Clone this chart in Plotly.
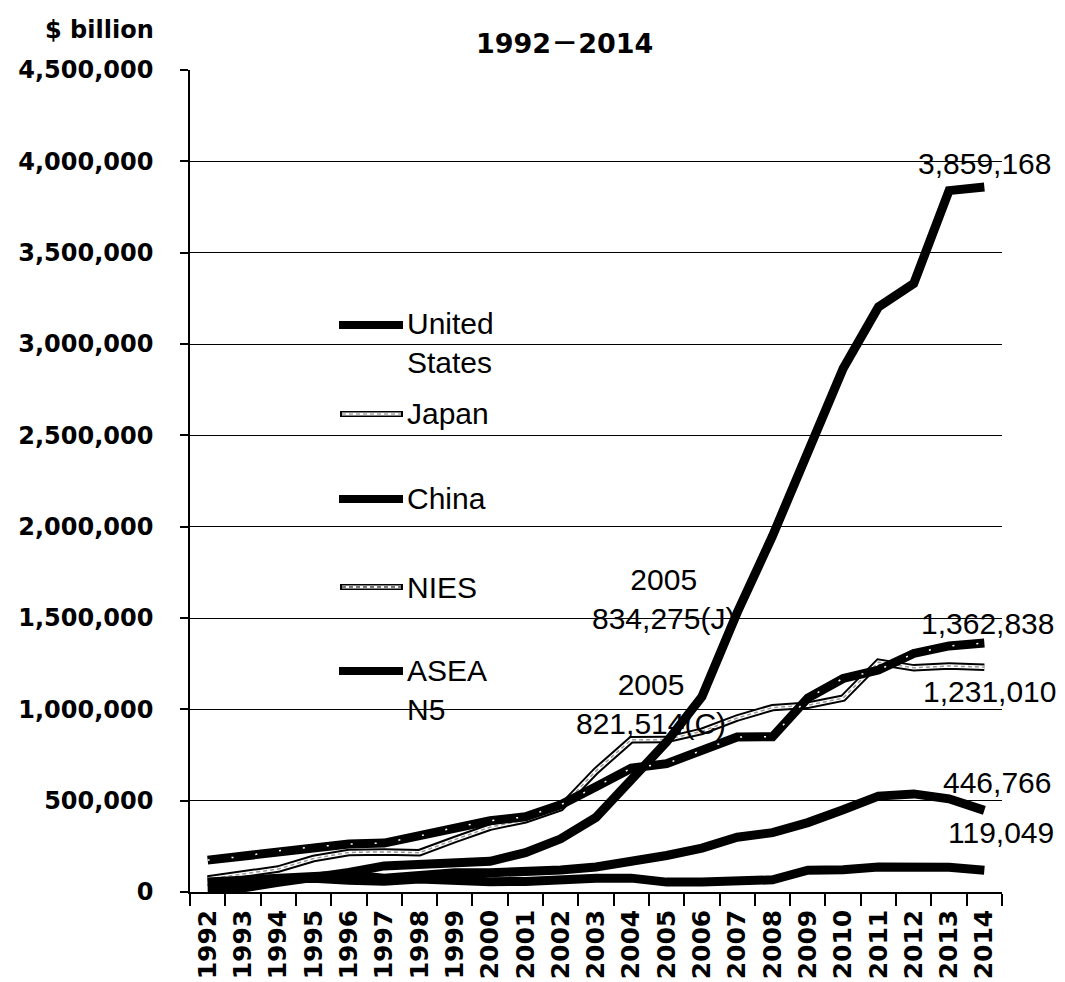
import plotly.graph_objects as go

# ---------------- data ($ million shown as "$ billion" label in source) ----------------
years = [str(y) for y in range(1992, 2015)]
united_states = [60266, 62354, 63281, 74780, 64037, 58907, 70715, 60500, 56600, 57634,
                 67962, 74894, 75890, 54084, 54853, 59519, 66607, 118967, 121397, 136880,
                 139134, 135155, 119049]
japan = [71623, 98524, 125860, 183250, 216648, 219648, 215471, 286916, 354902, 395155,
         461186, 663289, 833891, 834275, 879682, 952784, 1009360, 1022236, 1061490, 1258172,
         1227147, 1237159, 1231010]
china = [19443, 22387, 52914, 75377, 107039, 142762, 149188, 157728, 168278, 215605,
         291128, 408151, 614500, 821514, 1068493, 1530282, 1949260, 2416044, 2866079, 3202789,
         3331120, 3839548, 3859168]
nies = [174500, 195000, 225600, 247000, 262600, 268000, 306800, 353000, 390000, 411500,
        477000, 576000, 678000, 703000, 774000, 848000, 850000, 1062000, 1169000, 1215000,
        1306000, 1347000, 1362838]
asean5 = [55000, 68000, 75000, 82000, 95000, 75000, 88000, 105000, 105000, 108000,
          120000, 137000, 164000, 200000, 240000, 300000, 325000, 380000, 450000, 525000,
          537000, 510000, 446766]

legend_labels = ["United<br>States", "Japan", "China", "NIES", "ASEA<br>N5"]
y_ticks = [0, 500000, 1000000, 1500000, 2000000, 2500000, 3000000, 3500000, 4000000, 4500000]
y_tick_text = ["0", "500,000", "1,000,000", "1,500,000", "2,000,000", "2,500,000",
               "3,000,000", "3,500,000", "4,000,000", "4,500,000"]
unit_label = "$ billion"
period_label = "1992－2014"

# ---------------- layout geometry ----------------
W, H = 1065, 982
L, R, T, B = 190, 1002, 70, 892


def px(x):
    return (x - L) / (R - L)


def py(y):
    return (B - y) / (B - T)


REG = dict(family="Liberation Sans, Arial, sans-serif", size=30, color="black")
BOLD = dict(family="DejaVu Sans, sans-serif", size=24, color="black", weight="bold")
BOLD_X = dict(family="DejaVu Sans, sans-serif", size=25, color="black", weight="bold")

fig = go.Figure()


def black_line(vals, name):
    fig.add_trace(go.Scatter(x=years, y=vals, mode="lines", name=name,
                             line=dict(color="black", width=9), hoverinfo="skip"))


# United States
black_line(united_states, "United States")
# Japan: outlined light line
fig.add_trace(go.Scatter(x=years, y=japan, mode="lines", name="Japan",
                         line=dict(color="black", width=7.5), hoverinfo="skip"))
fig.add_trace(go.Scatter(x=years, y=japan, mode="lines", showlegend=False,
                         line=dict(color="white", width=3.5), hoverinfo="skip"))
fig.add_trace(go.Scatter(x=years, y=japan, mode="lines", showlegend=False,
                         line=dict(color="#9a9a9a", width=1.5, dash="4px,3px"), hoverinfo="skip"))
# China
black_line(china, "China")
# NIES: dark line with light specks
black_line(nies, "NIES")
fig.add_trace(go.Scatter(x=years, y=nies, mode="lines", showlegend=False,
                         line=dict(color="white", width=1.5, dash="2px,22px"), hoverinfo="skip"))
# ASEAN5
black_line(asean5, "ASEAN5")

# ---------------- manual legend ----------------
shapes = []
annotations = []
leg_rows = [325, 414, 499, 587, 671]
leg_text_y = [343, 413, 498, 587, 690]
styles = ["black", "outline_light", "black", "outline_dark", "black"]
for lab, ys, ty, st in zip(legend_labels, leg_rows, leg_text_y, styles):
    if st == "black":
        shapes.append(dict(type="line", xref="paper", yref="paper", x0=px(339), x1=px(403),
                           y0=py(ys), y1=py(ys), line=dict(color="black", width=8)))
    else:
        inner = "#bdbdbd" if st == "outline_light" else "#7a7a7a"
        shapes.append(dict(type="line", xref="paper", yref="paper", x0=px(340), x1=px(403),
                           y0=py(ys), y1=py(ys), line=dict(color="black", width=6)))
        shapes.append(dict(type="line", xref="paper", yref="paper", x0=px(342), x1=px(401),
                           y0=py(ys), y1=py(ys), line=dict(color="white", width=3)))
        shapes.append(dict(type="line", xref="paper", yref="paper", x0=px(342), x1=px(401),
                           y0=py(ys), y1=py(ys), line=dict(color=inner, width=2, dash="4px,3px")))
    annotations.append(dict(text=lab, xref="paper", yref="paper", x=px(405), y=py(ty),
                            xanchor="left", yanchor="middle", align="left", showarrow=False,
                            font=REG))


# ---------------- data labels (anchored to the category index of the point) ----------------
def label(text, xi, val, xs, ys):
    annotations.append(dict(text=text, xref="x", yref="y", x=xi, y=val, xshift=xs,
                            yshift=ys, showarrow=False, font=REG, align="center",
                            xanchor="center", yanchor="middle"))


last = len(years) - 1
i2005 = years.index("2005")
label("3,859,168", last, china[last], 0, 24)
label("1,362,838", last, nies[last], 3, 20)
label("1,231,010", last, japan[last], 5, -24)
label("446,766", last, asean5[last], 13, 28)
label("119,049", last, united_states[last], 17, 38)
label("2005<br>834,275(J)", i2005, japan[i2005], -3, 141)
label("2005<br>821,514(C)", i2005, china[i2005], -16, 38)

# ---------------- titles ----------------
annotations.append(dict(text=unit_label, xref="paper", yref="paper", x=px(99), y=py(30),
                        xanchor="center", yanchor="middle", showarrow=False, font=BOLD))
annotations.append(dict(text=period_label, xref="paper", yref="paper", x=px(564), y=py(44),
                        xanchor="center", yanchor="middle", showarrow=False,
                        font=dict(family="DejaVu Sans, Noto Sans CJK JP, sans-serif", size=27,
                                  color="black", weight="bold")))

fig.update_layout(
    width=W, height=H,
    margin=dict(l=L, r=W - R, t=T, b=H - B, pad=0, autoexpand=False),
    paper_bgcolor="white", plot_bgcolor="white",
    showlegend=False,
    shapes=shapes, annotations=annotations,
    xaxis=dict(type="category", categoryorder="array", categoryarray=years,
               range=[-0.5, 22.5], showline=True, linecolor="black", linewidth=1.5,
               ticks="outside", tickson="boundaries", ticklen=12, tickwidth=1.5,
               tickcolor="black", tickangle=-90, tickfont=BOLD_X, showgrid=False,
               zeroline=False, fixedrange=True, ticklabelstandoff=6, automargin=False),
    yaxis=dict(range=[0, 4500000], tickvals=y_ticks, ticktext=y_tick_text,
               showline=True, linecolor="black", linewidth=1.5, ticks="outside",
               ticklen=8, tickwidth=1.5, tickcolor="black", tickfont=BOLD,
               showgrid=True, gridcolor="black", gridwidth=1.3, zeroline=False,
               ticklabelstandoff=22, fixedrange=True, automargin=False),
)

fig.write_html("out.html")
